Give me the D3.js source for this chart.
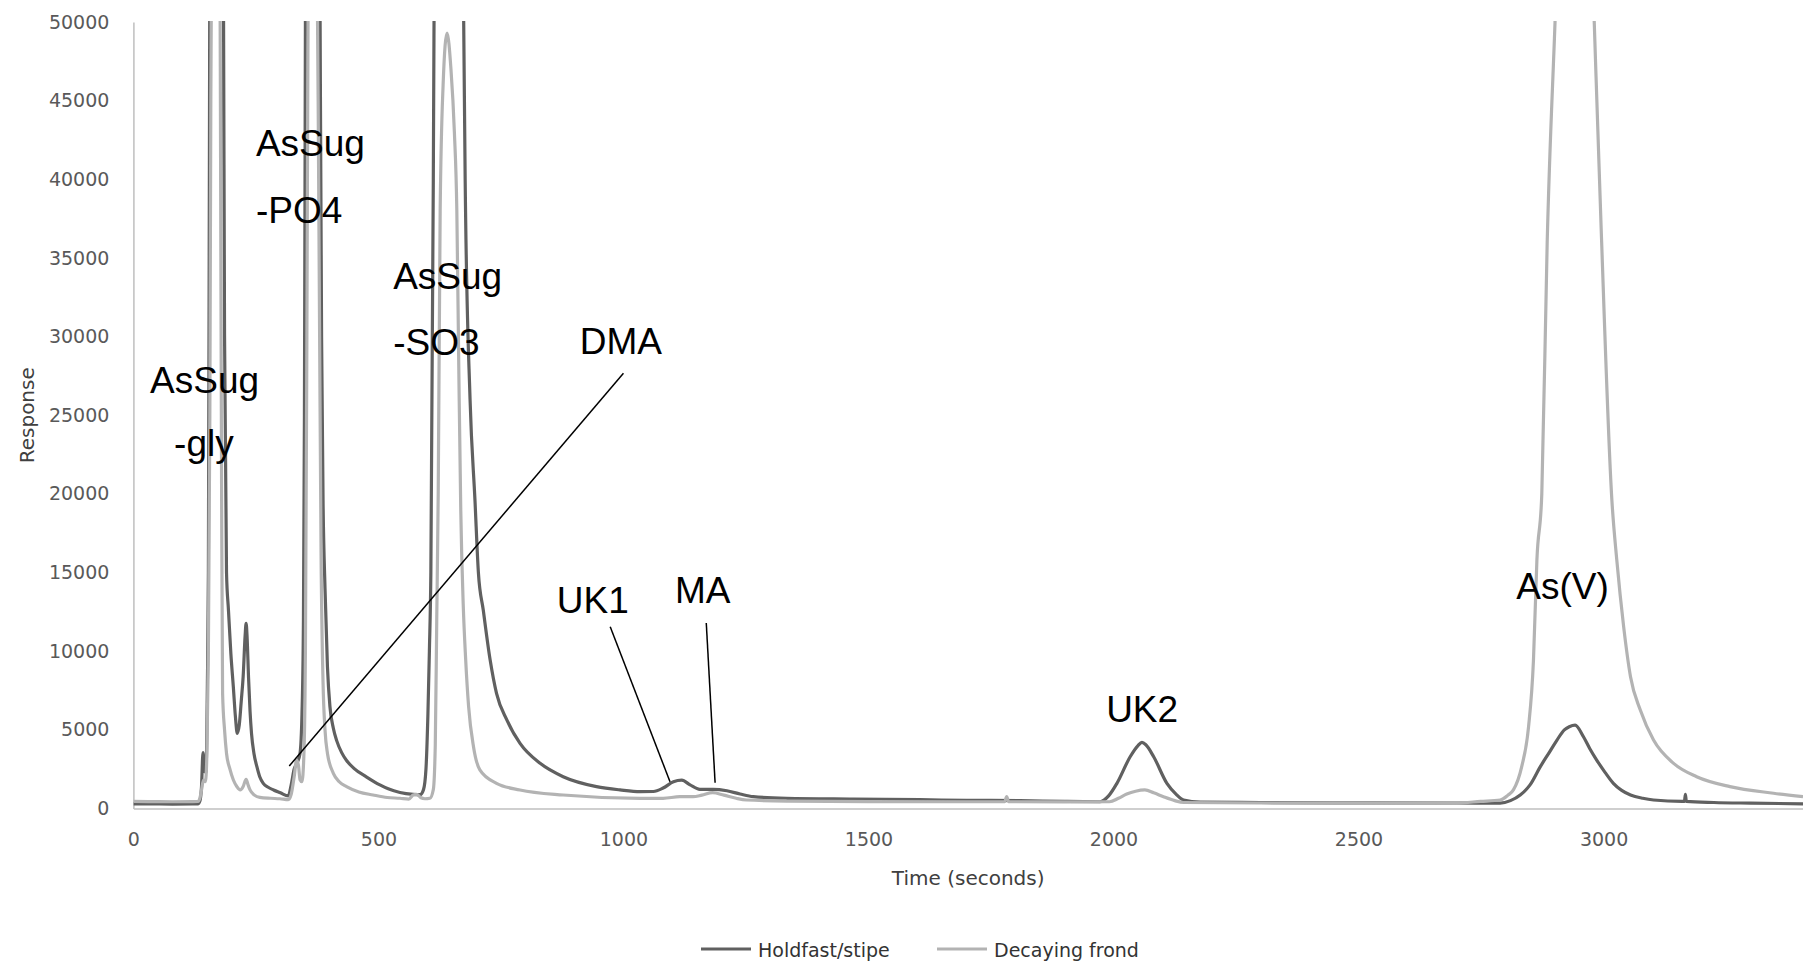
<!DOCTYPE html>
<html>
<head>
<meta charset="utf-8">
<script src="https://cdn.jsdelivr.net/npm/d3@7"></script>
<style>
	body { margin: 0; background: #fff; }
	svg { display: block; }
	.axis text { font-family: "DejaVu Sans", sans-serif; font-size: 19px; fill: #595959; }
	.axis path { stroke: #bfbfbf; stroke-width: 1.5; }
	.axis-title { font-family: "DejaVu Sans", sans-serif; font-size: 20px; fill: #404040; }
	.legend-text { font-family: "DejaVu Sans", sans-serif; font-size: 19px; fill: #333; }
	.peak-label { font-family: "Liberation Sans", Arial, sans-serif; font-size: 37px; fill: #000; }
	.leader { stroke: #000; stroke-width: 1.5; }
	.trace { fill: none; stroke-width: 3.2; stroke-linejoin: round; }
</style>
</head>
<body>
<svg id="chart" width="1803" height="964"></svg>
<script>
var WIDTH = 1803;
var HEIGHT = 964;
var LEFT = 133.4;
var TOP = 22;
var BOTTOM = 808.5;

var seriesNames = ["Holdfast/stipe", "Decaying frond"];
var seriesColors = ["#606060", "#b3b3b3"];
var xTicks = [0, 500, 1000, 1500, 2000, 2500, 3000];
var yTicks = [0, 5000, 10000, 15000, 20000, 25000, 30000, 35000, 40000, 45000, 50000];
var xMax = 3407;
var yMax = 50000;

// [time (s), response]
var holdfast = [
	[0,300],[40,290],[80,280],[120,290],[132,300],[136,500],[139,1400],[142,3550],[145,2400],[148,2300],
	[151,8000],[153,15000],[155,40000],[158,80000],[166,100000],[176,95000],[182,65000],[184,50000],[186,30000],
	[190,15000],[194,12600],[199,9800],[204,7700],[208,5900],[212,4780],[216,5300],[220,6800],[224,8400],
	[228,11000],[230,11770],[232,10900],[235,8300],[238,6200],[241,4780],[246,3500],[252,2660],[258,2000],
	[265,1600],[275,1350],[286,1180],[300,1000],[316,800],[322,1500],[328,2500],[334,2900],[340,3500],
	[344,6000],[347,12000],[349,25000],[351,50000],[356,85000],[366,100000],[376,90000],[381,50000],
	[384,30000],[387,19600],[391,14000],[396,9000],[401,6500],[408,5100],[415,4300],[425,3550],[435,3050],
	[450,2550],[476,2000],[503,1500],[520,1250],[544,1020],[571,900],[585,880],[592,1200],[597,2500],
	[601,6000],[604,10000],[607,15000],[612,40000],[615,60000],[630,100000],[655,100000],[670,60000],
	[674,50000],[677,40000],[687,26000],[697,19600],[704,15000],[714,12600],[728,9440],[741,7320],
	[762,5630],[789,4140],[830,2870],[877,2020],[945,1390],[993,1180],[1034,1070],[1061,1080],[1081,1300],
	[1102,1700],[1119,1800],[1136,1500],[1156,1220],[1183,1220],[1211,1130],[1238,920],[1265,750],
	[1333,650],[1469,600],[1605,560],[1700,520],[1809,500],[1900,450],[1972,430],[1990,800],[2007,1600],
	[2034,3290],[2050,4000],[2058,4200],[2066,4050],[2082,3290],[2109,1600],[2128,900],[2143,540],
	[2177,400],[2300,380],[2500,360],[2700,350],[2789,340],[2810,500],[2830,860],[2850,1500],[2871,2660],
	[2890,3600],[2905,4350],[2920,5000],[2930,5200],[2942,5300],[2959,4560],[2972,3800],[2986,3080],
	[3003,2300],[3020,1600],[3037,1150],[3055,860],[3080,650],[3102,540],[3160,450],[3165,450],[3167,900],
	[3169,450],[3225,380],[3300,340],[3407,300]
];

var decaying = [
	[0,450],[40,440],[80,430],[120,440],[132,450],[136,700],[139,1180],[143,1810],[147,1700],[150,3500],
	[153,10000],[156,25000],[158,45000],[162,70000],[170,80000],[176,60000],[178,40000],[180,20000],
	[182,7320],[186,5000],[190,3510],[197,2500],[204,1810],[211,1400],[218,1180],[224,1400],[230,1860],
	[234,1500],[238,1180],[247,850],[258,710],[280,650],[299,620],[316,560],[322,900],[328,2000],[333,3080],
	[337,2700],[340,1830],[344,1700],[348,3500],[351,10000],[354,30000],[357,55000],[365,75000],[372,65000],
	[377,45000],[380,30000],[383,16000],[387,8000],[391,5000],[396,3500],[408,2240],[420,1700],[435,1390],
	[460,1050],[489,860],[518,700],[544,650],[562,600],[571,860],[578,900],[586,700],[595,620],[605,650],
	[612,1200],[616,4000],[619,12000],[622,20000],[626,38000],[632,46000],[640,49300],[648,47000],
	[655,43000],[660,38000],[664,28000],[668,19000],[673,13000],[678,9500],[684,6500],[694,3930],
	[707,2450],[741,1600],[789,1180],[877,860],[1034,650],[1081,650],[1115,750],[1142,750],[1160,850],
	[1182,1010],[1205,850],[1230,650],[1251,540],[1333,470],[1500,440],[1700,430],[1778,430],[1782,750],
	[1786,430],[1900,420],[1992,430],[2010,650],[2027,920],[2045,1100],[2064,1180],[2082,1000],[2102,750],
	[2125,500],[2143,380],[2300,350],[2500,340],[2700,350],[2749,450],[2789,540],[2805,850],[2816,1180],
	[2833,2660],[2847,5200],[2857,9440],[2864,15800],[2874,20000],[2885,36000],[2901,50000],[2930,75000],
	[2960,70000],[2981,50000],[2995,37000],[3017,19600],[3027,15800],[3041,11560],[3055,8380],[3075,6260],
	[3102,4350],[3143,2870],[3190,2020],[3258,1390],[3347,970],[3407,750]
];

// peak names, anchored at [time, response] of the text's left baseline
var peakLabels = [
	["AsSug", 34, 26400], ["-gly", 83, 22400],
	["AsSug", 250, 41480], ["-PO4", 250, 37220],
	["AsSug", 530, 33030], ["-SO3", 530, 28830],
	["DMA", 911, 28890],
	["UK1", 864, 12430],
	["MA", 1105, 13060],
	["UK2", 1985, 5500],
	["As(V)", 2822, 13320]
];

// leader lines [t1, v1, t2, v2]
var leaderLines = [
	[1000, 27670, 318, 2700],
	[973, 11560, 1095, 1700],
	[1169, 11790, 1187, 1640]
];

var svg = d3.select("#chart");

var x = d3.scaleLinear()
	.domain([0, xMax])
	.range([LEFT, WIDTH]);

var y = d3.scaleLinear()
	.domain([0, yMax])
	.range([BOTTOM, TOP]);

svg.append("clipPath")
	.attr("id", "plot-clip")
	.append("rect")
		.attr("x", LEFT)
		.attr("y", TOP - 1)
		.attr("width", WIDTH - LEFT)
		.attr("height", BOTTOM - TOP + 1);

// axes
svg.append("g")
	.attr("class", "axis")
	.attr("transform", "translate(" + LEFT + ",0)")
	.call(d3.axisLeft(y)
		.tickValues(yTicks)
		.tickSize(0)
		.tickPadding(24)
		.tickFormat(d3.format("d")));

svg.append("g")
	.attr("class", "axis")
	.attr("transform", "translate(0," + BOTTOM + ")")
	.call(d3.axisBottom(x)
		.tickValues(xTicks)
		.tickSize(0)
		.tickPadding(24)
		.tickFormat(d3.format("d")));

svg.selectAll(".axis .domain").attr("stroke", "#bfbfbf");

// traces
var line = d3.line()
	.x(function(d){return x(d[0]);})
	.y(function(d){return y(d[1]);})
	.curve(d3.curveMonotoneX);

var traces = svg.append("g").attr("clip-path", "url(#plot-clip)");
[holdfast, decaying].forEach(function(series, i)
{
	traces.append("path")
		.datum(series)
		.attr("class", "trace")
		.attr("stroke", seriesColors[i])
		.attr("d", line);
});

// titles
svg.append("text")
	.attr("class", "axis-title")
	.attr("transform", "translate(27," + ((TOP + BOTTOM) / 2) + ") rotate(-90)")
	.attr("text-anchor", "middle")
	.attr("dominant-baseline", "central")
	.text("Response");

svg.append("text")
	.attr("class", "axis-title")
	.attr("x", (LEFT + WIDTH) / 2)
	.attr("y", 885)
	.attr("text-anchor", "middle")
	.text("Time (seconds)");

// legend
var legendX = [701, 937];
seriesNames.forEach(function(name, i)
{
	svg.append("line")
		.attr("x1", legendX[i])
		.attr("x2", legendX[i] + 50)
		.attr("y1", 949)
		.attr("y2", 949)
		.attr("stroke", seriesColors[i])
		.attr("stroke-width", 3.2);

	svg.append("text")
		.attr("class", "legend-text")
		.attr("x", legendX[i] + 57)
		.attr("y", 950)
		.attr("dominant-baseline", "central")
		.text(name);
});

// annotations
svg.selectAll(".leader")
	.data(leaderLines)
	.enter().append("line")
		.attr("class", "leader")
		.attr("x1", function(d){return x(d[0]);})
		.attr("y1", function(d){return y(d[1]);})
		.attr("x2", function(d){return x(d[2]);})
		.attr("y2", function(d){return y(d[3]);});

svg.selectAll(".peak-label")
	.data(peakLabels)
	.enter().append("text")
		.attr("class", "peak-label")
		.attr("x", function(d){return x(d[1]);})
		.attr("y", function(d){return y(d[2]);})
		.text(function(d){return d[0];});
</script>
</body>
</html>
